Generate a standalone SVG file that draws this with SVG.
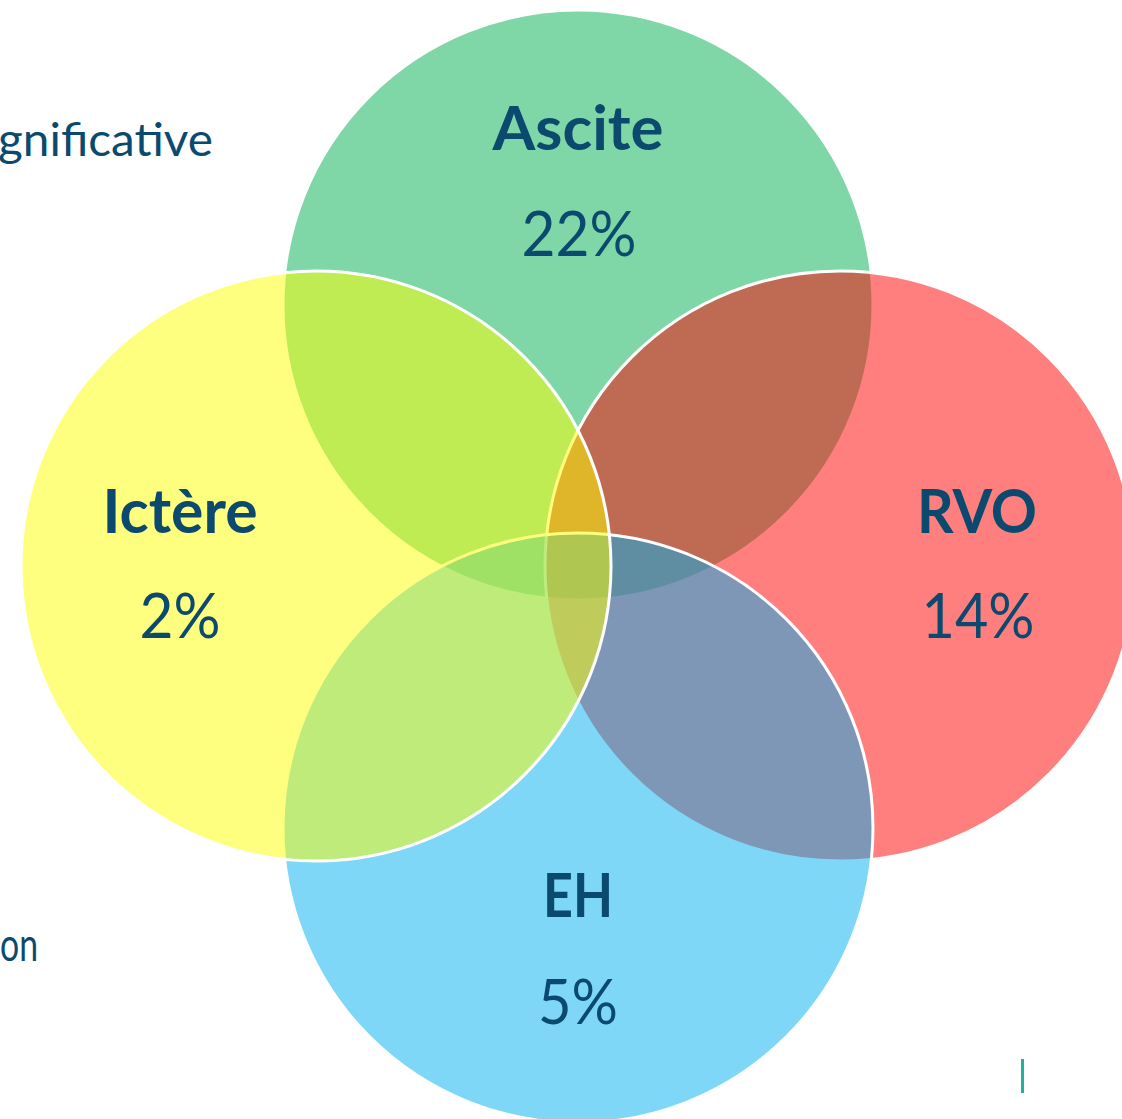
<svg xmlns="http://www.w3.org/2000/svg" width="1122" height="1119" viewBox="0 0 1122 1119">
<style>
.c{stroke:#ffffff;stroke-width:3;fill-opacity:0.5}
.t{fill:#0b4a6e;font-family:Lato,"Noto Sans","Liberation Sans",sans-serif;text-anchor:middle}
.b{font-weight:bold;font-size:62px}
.p{font-weight:normal;font-size:62px}
.side{fill:#0b4a6e;font-family:Lato,"Noto Sans","Liberation Sans",sans-serif;font-size:47px}
</style>
<rect width="1122" height="1119" fill="#ffffff"/>
<text class="side" x="213" y="156" text-anchor="end" textLength="215" lengthAdjust="spacingAndGlyphs">gnificative</text>
<text class="side" x="0" y="961" textLength="38" lengthAdjust="spacingAndGlyphs">on</text>
<rect x="1021" y="1059" width="3" height="34" fill="#20b39a"/>
<g id="ascite">
<circle class="c" cx="578" cy="305" r="295" fill="#00b050"/>
<text class="t b" x="578" y="150" textLength="171" lengthAdjust="spacingAndGlyphs">Ascite</text>
<text class="t p" x="579" y="256" textLength="115" lengthAdjust="spacingAndGlyphs">22%</text>
</g>
<g id="rvo">
<circle class="c" cx="840" cy="566" r="295" fill="#ff0000"/>
<text class="t b" x="977" y="533" textLength="120" lengthAdjust="spacingAndGlyphs">RVO</text>
<text class="t p" x="978" y="638" textLength="113" lengthAdjust="spacingAndGlyphs">14%</text>
</g>
<g id="eh">
<circle class="c" cx="578" cy="828" r="295" fill="#00b0f0"/>
<text class="t b" x="578" y="917" textLength="70" lengthAdjust="spacingAndGlyphs">EH</text>
<text class="t p" x="578" y="1024" textLength="80" lengthAdjust="spacingAndGlyphs">5%</text>
</g>
<g id="ictere">
<circle class="c" cx="316" cy="566" r="295" fill="#ffff00"/>
<text class="t b" x="180" y="533" textLength="155" lengthAdjust="spacingAndGlyphs">Ictère</text>
<text class="t p" x="180" y="638" textLength="81" lengthAdjust="spacingAndGlyphs">2%</text>
</g>
<g id="connectors"/>
</svg>
